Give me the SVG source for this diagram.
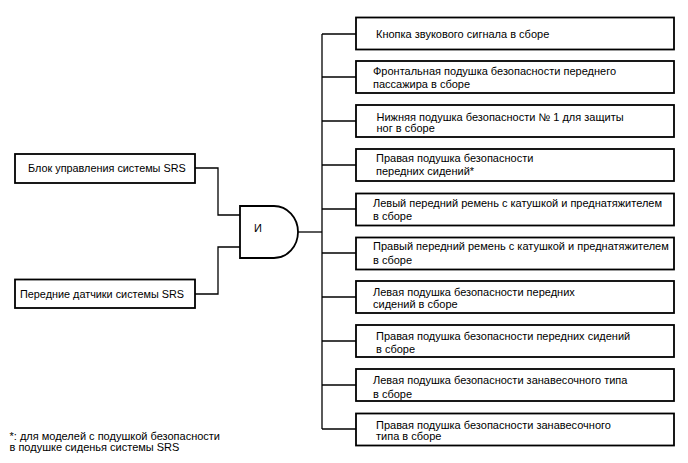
<svg xmlns="http://www.w3.org/2000/svg" width="688" height="463" viewBox="0 0 688 463">
<style>
.box{fill:#fff;stroke:#000;stroke-width:1.8}
.ln{fill:none;stroke:#000;stroke-width:1.3}
text{font-family:"Liberation Sans",Arial,sans-serif;font-size:11px;fill:#000}
.l{font-size:10.85px}
</style>
<rect width="688" height="463" fill="#fff"/>
<g id="connectors">
<polyline class="ln" points="195,168 218,168 218,215 240,215"/>
<polyline class="ln" points="195,294 218,294 218,247 240,247"/>
<line class="ln" x1="298" y1="232" x2="322" y2="232"/>
<line class="ln" x1="322" y1="34" x2="322" y2="429"/>
<line class="ln" x1="322" y1="34" x2="356" y2="34"/>
<line class="ln" x1="322" y1="77" x2="356" y2="77"/>
<line class="ln" x1="322" y1="121" x2="356" y2="121"/>
<line class="ln" x1="322" y1="165" x2="356" y2="165"/>
<line class="ln" x1="322" y1="209" x2="356" y2="209"/>
<line class="ln" x1="322" y1="253" x2="356" y2="253"/>
<line class="ln" x1="322" y1="297" x2="356" y2="297"/>
<line class="ln" x1="322" y1="341" x2="356" y2="341"/>
<line class="ln" x1="322" y1="385" x2="356" y2="385"/>
<line class="ln" x1="322" y1="429" x2="356" y2="429"/>
</g>
<g id="srs-ecu"><rect class="box" x="15" y="154" width="180" height="29"/><text class="l" x="28" y="171.5">Блок управления системы SRS</text></g>
<g id="srs-sensors"><rect class="box" x="15" y="279.5" width="180" height="28.5"/><text class="l" x="20" y="297.5">Передние датчики системы SRS</text></g>
<g id="and-gate"><path class="box" d="M240,206 H274 A24,26 0 0 1 274,258 H240 Z"/><text x="254" y="231.5">И</text></g>
<g id="n1"><rect class="box" x="356" y="17.5" width="318" height="32"/><text x="376" y="37.5">Кнопка звукового сигнала в сборе</text></g>
<g id="n2"><rect class="box" x="356" y="61" width="318" height="32"/><text x="373" y="75">Фронтальная подушка безопасности переднего</text><text x="373" y="87.5">пассажира в сборе</text></g>
<g id="n3"><rect class="box" x="356" y="105" width="318" height="32"/><text x="376.5" y="120.8">Нижняя подушка безопасности № 1 для защиты</text><text x="376.5" y="132">ног в сборе</text></g>
<g id="n4"><rect class="box" x="356" y="149" width="318" height="32"/><text x="376" y="161.8">Правая подушка безопасности</text><text x="376" y="174.5">передних сидений*</text></g>
<g id="n5"><rect class="box" x="356" y="193.5" width="318" height="32"/><text x="373" y="206.8">Левый передний ремень с катушкой и преднатяжителем</text><text x="373" y="219.5">в сборе</text></g>
<g id="n6"><rect class="box" x="356" y="237.5" width="318" height="32"/><text x="373" y="250.2">Правый передний ремень с катушкой и преднатяжителем</text><text x="373" y="263.5">в сборе</text></g>
<g id="n7"><rect class="box" x="356" y="281" width="318" height="32"/><text x="373" y="295.5">Левая подушка безопасности передних</text><text x="373" y="308.3">сидений в сборе</text></g>
<g id="n8"><rect class="box" x="356" y="325" width="318" height="32"/><text x="376" y="340.2">Правая подушка безопасности передних сидений</text><text x="376" y="352.8">в сборе</text></g>
<g id="n9"><rect class="box" x="356" y="369" width="318" height="32"/><text x="373" y="384.2">Левая подушка безопасности занавесочного типа</text><text x="373" y="397.5">в сборе</text></g>
<g id="n10"><rect class="box" x="356" y="413.5" width="318" height="32"/><text x="376" y="428.5">Правая подушка безопасности занавесочного</text><text x="376" y="440.3">типа в сборе</text></g>
<g id="footnote"><text x="9.5" y="439.5">*: для моделей с подушкой безопасности</text><text x="9.5" y="451">в подушке сиденья системы SRS</text></g>
</svg>
